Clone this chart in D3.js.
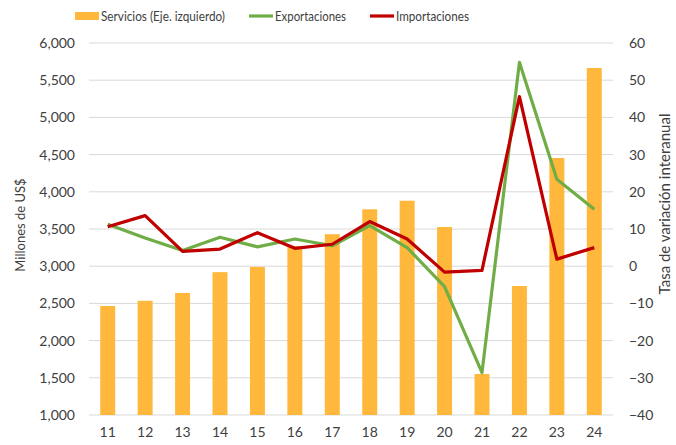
<!DOCTYPE html>
<html>
<head>
<meta charset="utf-8">
<script src="https://cdn.jsdelivr.net/npm/d3@7"></script>
<style>
  body { margin: 0; background: #fff; }
  text { font-family: "Lato", "Open Sans", sans-serif; fill: #404040; }
</style>
</head>
<body>
<div id="chart"></div>
<script>
// Data
var years = ["11", "12", "13", "14", "15", "16", "17", "18", "19", "20", "21", "22", "23", "24"];
var servicios = [2465, 2535, 2640, 2920, 2990, 3270, 3430, 3765, 3880, 3527, 1551, 2734, 4454, 5664];
var exportaciones = [11.3, 7.6, 4.2, 7.8, 5.2, 7.3, 5.5, 10.9, 5.0, -5.5, -28.6, 54.8, 23.4, 15.3];
var importaciones = [10.6, 13.6, 4.0, 4.6, 9.0, 4.8, 5.9, 12.0, 7.3, -1.6, -1.1, 45.6, 1.9, 5.0];
var leftTicks = [1000, 1500, 2000, 2500, 3000, 3500, 4000, 4500, 5000, 5500, 6000];
var rightTicks = [-40, -30, -20, -10, 0, 10, 20, 30, 40, 50, 60];

var svgWidth = 676;
var svgHeight = 445;

var margin = { top: 43, right: 63, bottom: 30, left: 89 };
var width = svgWidth - margin.left - margin.right;
var height = svgHeight - margin.top - margin.bottom;

var svg = d3
  .select("#chart")
  .append("svg")
  .attr("width", svgWidth)
  .attr("height", svgHeight);

var chartGroup = svg
  .append("g")
  .attr("transform", `translate(${margin.left}, ${margin.top})`);

// scales
var xScale = d3.scaleBand().domain(years).range([0, width]).paddingInner(0.6).paddingOuter(0.3);
var xPoint = (d) => xScale(d) + xScale.bandwidth() / 2;
var yLeft = d3.scaleLinear().domain([1000, 6000]).range([height, 0]);
var yRight = d3.scaleLinear().domain([-40, 60]).range([height, 0]);

// gridlines
chartGroup
  .append("g")
  .selectAll("line")
  .data(leftTicks)
  .enter()
  .append("line")
  .attr("x1", 0)
  .attr("x2", width)
  .attr("y1", (d) => yLeft(d))
  .attr("y2", (d) => yLeft(d))
  .attr("stroke", "#d9d9d9")
  .attr("stroke-width", 1);

// left axis
var leftAxis = d3.axisLeft(yLeft).tickValues(leftTicks).tickFormat(d3.format(",")).tickSize(0).tickPadding(14);
var gl = chartGroup.append("g").call(leftAxis);
gl.select(".domain").remove();
gl.selectAll("text").style("font-size", "14px");

// right axis
var rightAxis = d3.axisRight(yRight).tickValues(rightTicks).tickSize(0).tickPadding(16);
var gr = chartGroup.append("g").attr("transform", `translate(${width}, 0)`).call(rightAxis);
gr.select(".domain").remove();
gr.selectAll("text").style("font-size", "14px");

// bottom axis
var bottomAxis = d3.axisBottom(xScale).tickSize(0).tickPadding(12);
var gb = chartGroup.append("g").attr("transform", `translate(0, ${height})`).call(bottomAxis);
gb.select(".domain").remove();
gb.selectAll("text").style("font-size", "14px");

// bars
chartGroup
  .append("g")
  .selectAll("rect")
  .data(servicios)
  .enter()
  .append("rect")
  .attr("x", (d, i) => xScale(years[i]))
  .attr("y", (d) => yLeft(d))
  .attr("width", xScale.bandwidth())
  .attr("height", (d) => height - yLeft(d))
  .attr("fill", "#ffb83c");

// lines
var line = d3
  .line()
  .x((d, i) => xPoint(years[i]))
  .y((d) => yRight(d));

chartGroup
  .append("path")
  .datum(exportaciones)
  .attr("d", line)
  .attr("fill", "none")
  .attr("stroke", "#70ad47")
  .attr("stroke-width", 3.2)
  .attr("stroke-linejoin", "round");

chartGroup
  .append("path")
  .datum(importaciones)
  .attr("d", line)
  .attr("fill", "none")
  .attr("stroke", "#c00000")
  .attr("stroke-width", 3.2)
  .attr("stroke-linejoin", "round");

// axis titles
svg
  .append("text")
  .attr("transform", "translate(25, 225) rotate(-90)")
  .attr("text-anchor", "middle")
  .style("font-size", "13px")
  .text("Millones de US$");

svg
  .append("text")
  .attr("transform", "translate(670, 204) rotate(-90)")
  .attr("text-anchor", "middle")
  .style("font-size", "15px")
  .text("Tasa de variación interanual");

// legend (text squeezed to the condensed width of the original)
var legend = svg.append("g");
legend.append("rect").attr("x", 75).attr("y", 12).attr("width", 24).attr("height", 8).attr("fill", "#ffb83c");
legend.append("text").attr("x", 101).attr("y", 21).style("font-size", "14px")
  .attr("textLength", 124).attr("lengthAdjust", "spacingAndGlyphs").text("Servicios (Eje. izquierdo)");
legend.append("line").attr("x1", 249).attr("x2", 273).attr("y1", 16).attr("y2", 16).attr("stroke", "#70ad47").attr("stroke-width", 3.2);
legend.append("text").attr("x", 275).attr("y", 21).style("font-size", "14px")
  .attr("textLength", 71).attr("lengthAdjust", "spacingAndGlyphs").text("Exportaciones");
legend.append("line").attr("x1", 370).attr("x2", 394).attr("y1", 16).attr("y2", 16).attr("stroke", "#c00000").attr("stroke-width", 3.2);
legend.append("text").attr("x", 396).attr("y", 21).style("font-size", "14px")
  .attr("textLength", 73).attr("lengthAdjust", "spacingAndGlyphs").text("Importaciones");
</script>
</body>
</html>
